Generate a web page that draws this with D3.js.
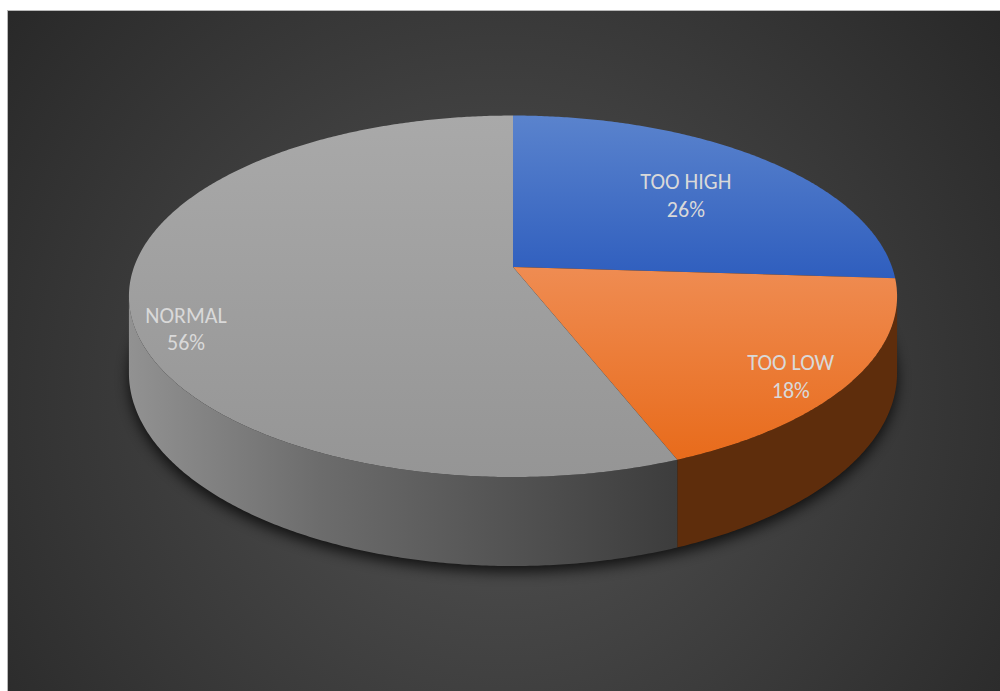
<!DOCTYPE html>
<html>
<head>
<meta charset="utf-8">
<script src="https://cdn.jsdelivr.net/npm/d3@7/dist/d3.min.js"></script>
<style>
	body { margin: 0; background: #fff; }
	svg { display: block; }
</style>
</head>
<body>
<svg id="svg"></svg>
<script>
// data
var categories = ["TOO HIGH", "TOO LOW", "NORMAL"];
var values = [26, 18, 56];
var topLight = ["#5a83cd", "#ef8c52", "#a9a9a9"];
var topDark = ["#2f5ebe", "#e86b1b", "#959595"];
var sideColor = ["#24468c", "#5e2d0c", "#5a5a5a"];
var labelRadius = [0.66, 0.87, 0.88];
var labelNudge = [1, 4, -11]; // degrees, excel "best fit" drift

var width = 1000,
	height = 691,
	cx = 513,
	cy = 267,
	sx = 379,
	sy = 176,
	k = 0.162,
	depth = 74.6,
	step = Math.PI / 360;

// simple perspective: far side of the disc shrinks
function project(theta, r) {
	var u = r * Math.sin(theta),
		v = -r * Math.cos(theta),
		s = 1 / (1 - k * v);
	return [cx + sx * u * s, cy + sy * v * s, s];
}

function rim(a0, a1) {
	var pts = [];
	for (var a = a0; a < a1; a += step) pts.push(project(a, 1));
	pts.push(project(a1, 1));
	return pts;
}

var svg = d3.select("#svg")
	.attr("width", width)
	.attr("height", height);

var defs = svg.append("defs");

var bg = defs.append("radialGradient")
	.attr("id", "bg")
	.attr("gradientUnits", "userSpaceOnUse")
	.attr("cx", 500).attr("cy", 400).attr("r", 650);
bg.append("stop").attr("offset", 0).attr("stop-color", "#545454");
bg.append("stop").attr("offset", 1).attr("stop-color", "#272727");

defs.append("filter")
	.attr("id", "blur")
	.attr("x", "-20%").attr("y", "-20%").attr("width", "140%").attr("height", "140%")
	.append("feGaussianBlur")
	.attr("stdDeviation", 7);

values.forEach(function(d, i) {
	var g = defs.append("linearGradient")
		.attr("id", "top" + i)
		.attr("x1", 0).attr("y1", 0).attr("x2", 0).attr("y2", 1);
	g.append("stop").attr("offset", 0).attr("stop-color", topLight[i]);
	g.append("stop").attr("offset", 1).attr("stop-color", topDark[i]);
});

var sideGrad = defs.append("linearGradient")
	.attr("id", "side2")
	.attr("gradientUnits", "userSpaceOnUse")
	.attr("x1", 127).attr("y1", 0).attr("x2", 680).attr("y2", 0);
sideGrad.append("stop").attr("offset", 0).attr("stop-color", "#929292");
sideGrad.append("stop").attr("offset", 0.35).attr("stop-color", "#6c6c6c");
sideGrad.append("stop").attr("offset", 1).attr("stop-color", "#3c3c3c");

svg.append("rect")
	.attr("x", 7.5)
	.attr("y", 10.5)
	.attr("width", width)
	.attr("height", height)
	.attr("fill", "url(#bg)")
	.attr("stroke", "#b8b8b8")
	.attr("stroke-width", 1);

var pie = d3.pie().sort(null)(values);
var line = d3.line().curve(d3.curveLinearClosed);

// shadow under the disc
var shadowPts = rim(0, 2 * Math.PI).map(function(p) {
	return [p[0], p[1] + depth * p[2] + 6];
});
svg.append("path")
	.attr("d", line(shadowPts))
	.attr("fill", "#000")
	.attr("opacity", 0.75)
	.attr("filter", "url(#blur)");

// visible side of the cylinder lies between the two silhouette points
var sideFrom = Math.acos(-k),
	sideTo = 2 * Math.PI - Math.acos(-k);

var sides = svg.append("g").attr("id", "sides");
pie.forEach(function(d, i) {
	var a0 = Math.max(d.startAngle, sideFrom),
		a1 = Math.min(d.endAngle, sideTo);
	if (a1 <= a0) return;
	var upper = rim(a0, a1),
		lower = upper.map(function(p) { return [p[0], p[1] + depth * p[2]]; }).reverse();
	sides.append("path")
		.attr("d", line(upper.concat(lower)))
		.attr("fill", i == 2 ? "url(#side2)" : sideColor[i]);
});

var tops = svg.append("g").attr("id", "tops");
pie.forEach(function(d, i) {
	var pts = [project(0, 0)].concat(rim(d.startAngle, d.endAngle));
	tops.append("path")
		.attr("d", line(pts))
		.attr("fill", "url(#top" + i + ")");
});

var labels = svg.append("g").attr("id", "labels")
	.attr("font-family", "Calibri, Carlito, Lato, sans-serif")
	.attr("font-size", 22)
	.attr("fill", "#d9d9d9")
	.attr("text-anchor", "middle");

pie.forEach(function(d, i) {
	var mid = (d.startAngle + d.endAngle) / 2 + labelNudge[i] * Math.PI / 180,
		p = project(mid, labelRadius[i]),
		total = d3.sum(values);
	var t = labels.append("text")
		.attr("x", p[0])
		.attr("y", p[1] - 5);
	t.append("tspan").attr("x", p[0]).text(categories[i]);
	t.append("tspan").attr("x", p[0]).attr("dy", 27.5)
		.text(Math.round(d.value / total * 100) + "%");
});
</script>
</body>
</html>
